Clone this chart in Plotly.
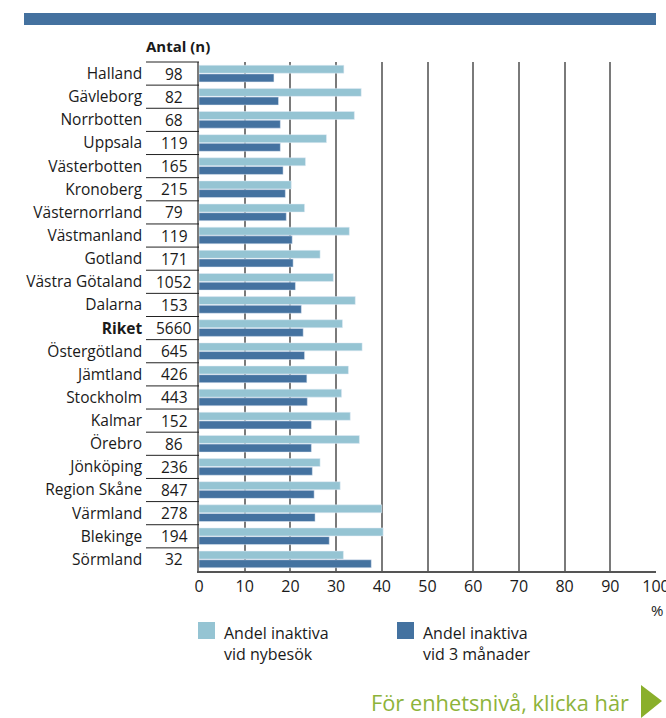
import plotly.graph_objects as go

regions = ["Halland", "Gävleborg", "Norrbotten", "Uppsala", "Västerbotten", "Kronoberg",
           "Västernorrland", "Västmanland", "Gotland", "Västra Götaland", "Dalarna", "Riket",
           "Östergötland", "Jämtland", "Stockholm", "Kalmar", "Örebro", "Jönköping",
           "Region Skåne", "Värmland", "Blekinge", "Sörmland"]
antal = [98, 82, 68, 119, 165, 215, 79, 119, 171, 1052, 153, 5660, 645, 426, 443, 152, 86,
         236, 847, 278, 194, 32]
inaktiva_nybesok = [31.7, 35.5, 34.0, 27.9, 23.3, 20.2, 23.1, 32.9, 26.5, 29.4, 34.2, 31.4,
                    35.7, 32.7, 31.2, 33.1, 35.1, 26.5, 30.9, 40.0, 40.3, 31.6]
inaktiva_3man = [16.4, 17.4, 17.8, 17.8, 18.4, 18.9, 19.1, 20.4, 20.6, 21.1, 22.4, 22.8,
                 23.1, 23.6, 23.7, 24.6, 24.6, 24.8, 25.2, 25.4, 28.5, 37.7]
serie_namn = ["Andel inaktiva<br>vid nybesök", "Andel inaktiva<br>vid 3 månader"]
x_ticks = [0, 10, 20, 30, 40, 50, 60, 70, 80, 90, 100]

LJUS = "#95C4D3"
MORK = "#4472A0"
GRON = "#8DB33A"
TEXT = "#1a1a1a"
FONT = "Open Sans"

# plottytans kanter i pixlar
W, H = 666, 718
L, R, T, B = 199, 656, 62, 571


def px(x):
    return (x - L) / (R - L)


def py(y):
    return (B - y) / (B - T)


def fet(s):
    return f"<b>{s}</b>" if s == "Riket" else s


fig = go.Figure()
fig.add_trace(go.Bar(y=regions, x=inaktiva_nybesok, orientation="h", marker_color=LJUS,
                     name=serie_namn[0], showlegend=False))
fig.add_trace(go.Bar(y=regions, x=inaktiva_3man, orientation="h", marker_color=MORK,
                     name=serie_namn[1], showlegend=False))

# antal-kolumnen
for r, n in zip(regions, antal):
    fig.add_annotation(x=px(174), xref="paper", y=r, yref="y", text=fet(str(n)),
                       showarrow=False, xanchor="center", yanchor="middle",
                       font=dict(size=15.5, color=TEXT))

# linjer i tabellen
for i in range(len(regions)):
    yy = 1 - i / len(regions)
    fig.add_shape(type="line", xref="paper", yref="paper", x0=px(146), x1=0, y0=yy, y1=yy,
                  line=dict(color="#222222", width=1))

fig.add_annotation(x=px(178), xref="paper", y=py(46), yref="paper", text="<b>Antal (n)</b>",
                   showarrow=False, xanchor="center", yanchor="middle",
                   font=dict(size=15, color=TEXT))

# blå list överst
fig.add_shape(type="rect", xref="paper", yref="paper", x0=px(24), x1=px(656), y0=py(25),
              y1=py(13), fillcolor="#44719F", line_width=0)

# teckenförklaring
for sx, tx, col, txt in [(198, 222, LJUS, serie_namn[0]), (397, 421, MORK, serie_namn[1])]:
    fig.add_shape(type="rect", xref="paper", yref="paper", x0=px(sx), x1=px(sx + 17),
                  y0=py(639), y1=py(622), fillcolor=col, line_width=0)
    fig.add_annotation(x=px(tx), xref="paper", y=py(620), yref="paper", text=txt,
                       showarrow=False, xanchor="left", yanchor="top", align="left",
                       font=dict(size=16, color=TEXT))

fig.add_annotation(x=px(657), xref="paper", y=py(610), yref="paper", text="%",
                   showarrow=False, xanchor="center", yanchor="middle",
                   font=dict(size=15, color=TEXT))

# länk nere till höger
fig.add_annotation(x=px(631), xref="paper", y=py(702), yref="paper",
                   text="För enhetsnivå, klicka här", showarrow=False, xanchor="right",
                   yanchor="middle", font=dict(size=21.8, color=GRON))
fig.add_shape(type="path", xref="paper", yref="paper",
              path=f"M {px(641)} {py(685)} L {px(662)} {py(701)} L {px(641)} {py(718)} Z",
              fillcolor="#8AAF2B", line_width=0)

fig.update_layout(
    width=W, height=H, autosize=False,
    margin=dict(l=L, r=W - R, t=T, b=H - B),
    paper_bgcolor="white", plot_bgcolor="white",
    font=dict(family=FONT, size=15, color=TEXT),
    barmode="group", bargap=0.25, bargroupgap=0.08,
    xaxis=dict(range=[0, 100], tickvals=x_ticks, showgrid=True, gridcolor="#7a7a7a",
               gridwidth=1.5, showline=True, linecolor="#555555", linewidth=1.5,
               zeroline=False, ticks="", tickfont=dict(size=16), ticklabeloverflow="allow",
               automargin=False),
    yaxis=dict(range=[len(regions) - 0.5, -0.5], tickvals=regions,
               ticktext=[fet(r) for r in regions], showline=True, linecolor="#7a7a7a",
               linewidth=1.5, showgrid=False, ticks="", ticklabelstandoff=52,
               tickfont=dict(size=15.5), automargin=False),
)

# sidans standardmarginal och rullister bort så att figuren hamnar i hörnet
fig.write_html(
    "out.html",
    config={"displayModeBar": False, "responsive": False},
    post_script="document.body.style.margin='0';document.body.style.overflow='hidden';",
)
